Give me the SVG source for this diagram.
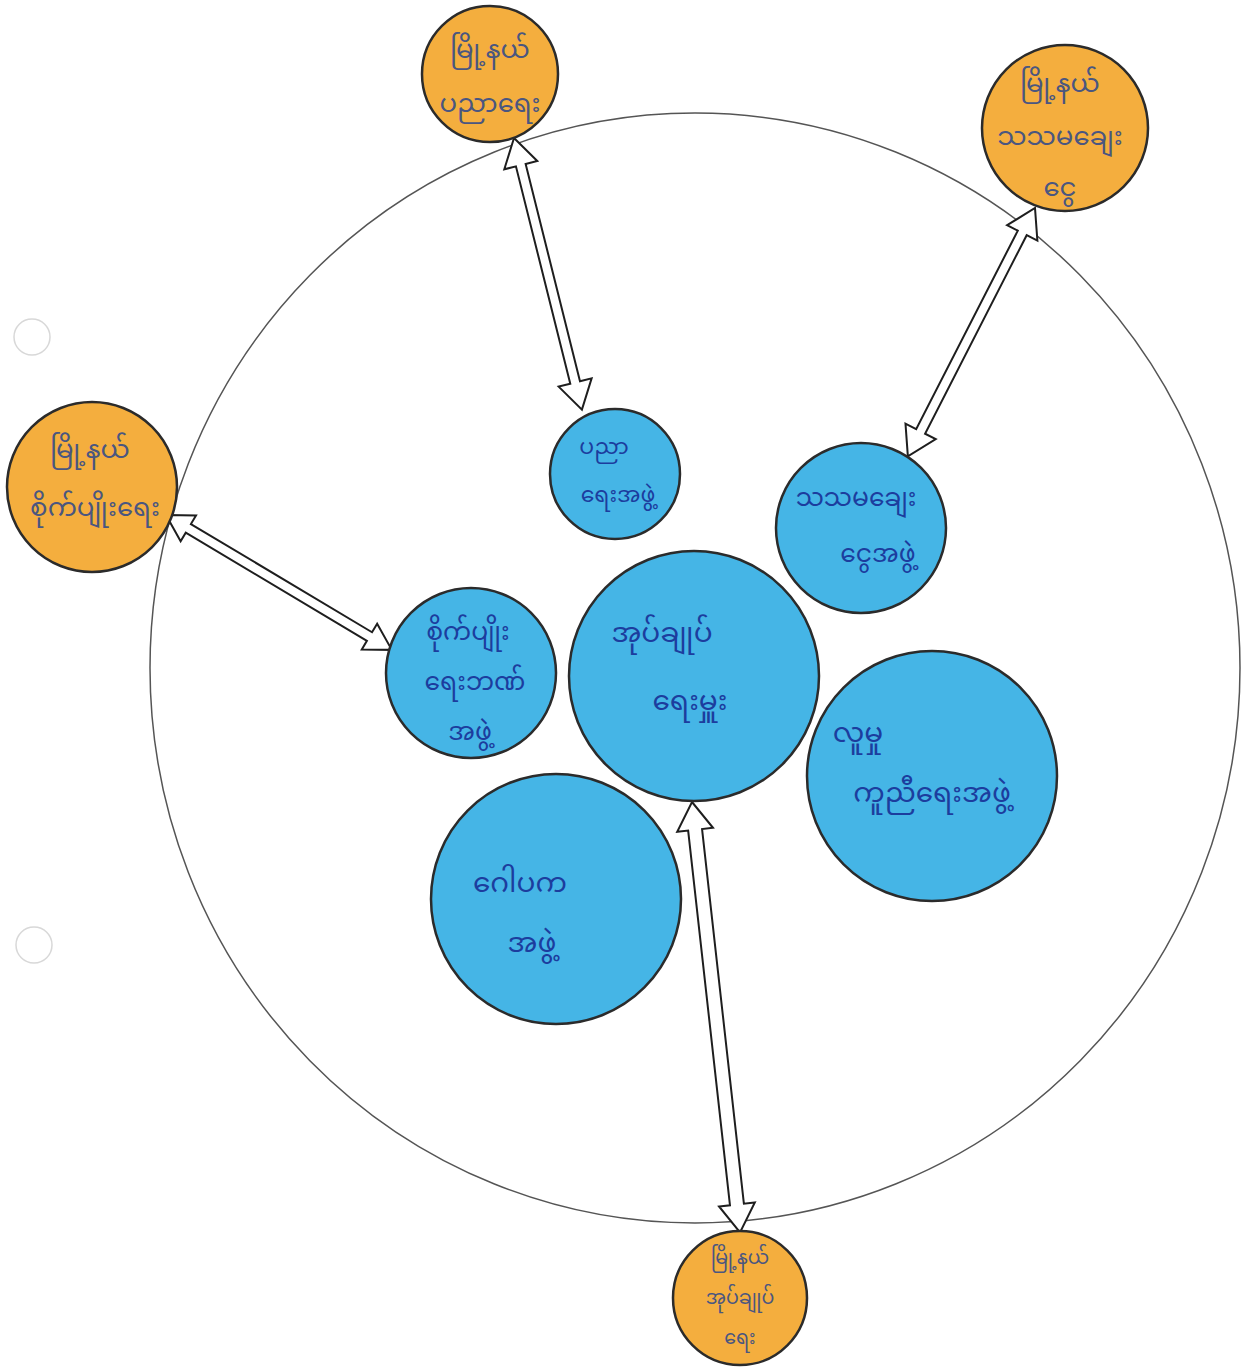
<svg xmlns="http://www.w3.org/2000/svg" width="1248" height="1367" viewBox="0 0 1248 1367">
<style>
.bg{fill:#ffffff}
.outer{fill:none;stroke:#555;stroke-width:1.5}
.hole{fill:none;stroke:#d8d8d8;stroke-width:1.5}
.blue{fill:#45b5e6;stroke:#2b2b2b;stroke-width:2.5}
.orange{fill:#f4ae3e;stroke:#2b2b2b;stroke-width:2.5}
.arrow{fill:#ffffff;stroke:#1e1e1e;stroke-width:2;stroke-linejoin:miter}
.tb{font-family:"Noto Sans Myanmar","Padauk","Myanmar Text","Noto Sans","DejaVu Sans",sans-serif;font-size:28px;fill:#1c3d9e;text-anchor:middle}
.ts{font-size:25px}
.tx{font-size:22px}
.to{font-family:"Noto Sans Myanmar","Padauk","Myanmar Text","Noto Sans","DejaVu Sans",sans-serif;font-size:26px;fill:#4a5680;text-anchor:middle}
.tos{font-size:19px}
</style>
<rect class="bg" x="0" y="0" width="1248" height="1367"/>
<circle class="hole" cx="32" cy="337" r="18"/>
<circle class="hole" cx="34" cy="945" r="18"/>
<ellipse id="boundary" class="outer" cx="695" cy="668" rx="545" ry="555"/>

<g id="connectors">
  <path class="arrow" transform="translate(514,138) rotate(75.96)" d="M0,0 L28,-17 L28,-5 L252,-5 L252,-17 L280,0 L252,17 L252,5 L28,5 L28,17 Z"/>
  <path class="arrow" transform="translate(1035,208) rotate(117.11)" d="M0,0 L28,-17 L28,-5 L251,-5 L251,-17 L279,0 L251,17 L251,5 L28,5 L28,17 Z"/>
  <path class="arrow" transform="translate(166,515) rotate(30.85)" d="M0,0 L26,-15 L26,-5 L237,-5 L237,-15 L263,0 L237,15 L237,5 L26,5 L26,15 Z"/>
  <path class="arrow" transform="translate(692,802) rotate(83.63)" d="M0,0 L28,-18 L28,-7 L405,-7 L405,-18 L433,0 L405,18 L405,7 L28,7 L28,18 Z"/>
</g>

<g id="township-education">
  <circle class="orange" cx="490" cy="74" r="68"/>
  <text class="to" x="490" y="58">မြို့နယ်</text>
  <text class="to" x="490" y="112">ပညာရေး</text>
</g>
<g id="township-loan">
  <circle class="orange" cx="1065" cy="128" r="83"/>
  <text class="to" x="1060" y="92">မြို့နယ်</text>
  <text class="to" x="1060" y="145">သသမချေး</text>
  <text class="to" x="1060" y="196">ငွေ</text>
</g>
<g id="township-agriculture">
  <circle class="orange" cx="92" cy="487" r="85"/>
  <text class="to" x="90" y="458">မြို့နယ်</text>
  <text class="to" x="95" y="516">စိုက်ပျိုးရေး</text>
</g>
<g id="township-administration">
  <circle class="orange" cx="740" cy="1298" r="67"/>
  <text class="to tos" x="740" y="1264">မြို့နယ်</text>
  <text class="to tos" x="740" y="1304">အုပ်ချုပ်</text>
  <text class="to tos" x="740" y="1344">ရေး</text>
</g>

<g id="education-group">
  <circle class="blue" cx="615" cy="474" r="65"/>
  <text class="tb tx" x="604" y="454">ပညာ</text>
  <text class="tb tx" x="618" y="502">ရေးအဖွဲ့</text>
</g>
<g id="loan-group">
  <circle class="blue" cx="861" cy="528" r="85"/>
  <text class="tb ts" x="856" y="506">သသမချေး</text>
  <text class="tb ts" x="878" y="562">ငွေအဖွဲ့</text>
</g>
<g id="agri-bank-group">
  <circle class="blue" cx="471" cy="673" r="85"/>
  <text class="tb ts" x="468" y="640">စိုက်ပျိုး</text>
  <text class="tb ts" x="475" y="690">ရေးဘဏ်</text>
  <text class="tb ts" x="470" y="740">အဖွဲ့</text>
</g>
<g id="administrator">
  <circle class="blue" cx="694" cy="676" r="125"/>
  <text class="tb" x="662" y="642">အုပ်ချုပ်</text>
  <text class="tb" x="690" y="710">ရေးမှူး</text>
</g>
<g id="social-help-group">
  <circle class="blue" cx="932" cy="776" r="125"/>
  <text class="tb" x="858" y="742">လူမှု</text>
  <text class="tb" x="932" y="802">ကူညီရေးအဖွဲ့</text>
</g>
<g id="gawpaka-group">
  <circle class="blue" cx="556" cy="899" r="125"/>
  <text class="tb" x="520" y="892">ဂေါပက</text>
  <text class="tb" x="532" y="952">အဖွဲ့</text>
</g>
</svg>
